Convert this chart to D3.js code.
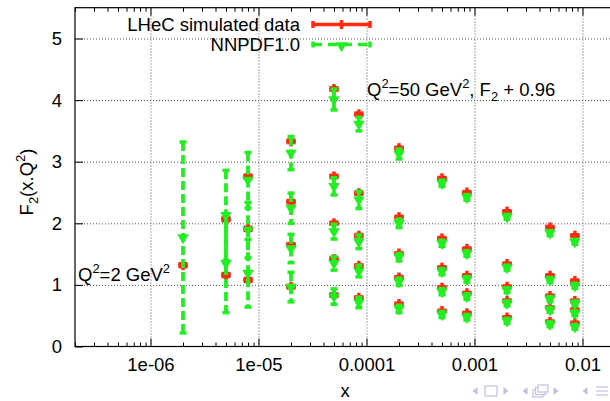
<!DOCTYPE html>
<html><head><meta charset="utf-8">
<script src="https://cdn.jsdelivr.net/npm/d3@7"></script>
<style>
body{margin:0;background:#fff}
svg{display:block}
text{font-family:"Liberation Sans",Arial,Helvetica,sans-serif;fill:#000}
</style>
</head><body>
<svg id="c" width="610" height="401"></svg>
<script>
// ---------- data ----------
const colX = [2e-6, 5e-6, 8e-6, 2e-5, 5e-5, 8.5e-5, 2e-4, 5e-4, 8.5e-4, 2e-3, 5e-3, 8.5e-3];

// LHeC simulated data (values per x column) and error per column
const lhecY = [
  [1.32],
  [2.065, 1.16],
  [2.76, 1.91, 1.08],
  [3.33, 2.35, 1.65, 0.97],
  [4.18, 2.76, 2.00, 1.42, 0.835],
  [3.77, 2.49, 1.80, 1.31, 0.79],
  [3.22, 2.10, 1.51, 1.12, 0.69],
  [2.73, 1.755, 1.28, 0.955, 0.575],
  [2.50, 1.585, 1.15, 0.865, 0.54],
  [2.19, 1.34, 0.97, 0.74, 0.47],
  [1.935, 1.15, 0.82, 0.63, 0.40],
  [1.80, 1.065, 0.74, 0.595, 0.38]
];
const lhecErr = [0.025, 0.025, 0.025, 0.02, 0.02, 0.02, 0.015, 0.015, 0.015, 0.015, 0.015, 0.015];

// NNPDF1.0 predictions and uncertainties
const nnpdfY = [
  [1.77],
  [2.13, 1.35],
  [2.70, 1.89, 1.19],
  [3.14, 2.245, 1.59, 0.965],
  [4.01, 2.60, 1.865, 1.35, 0.81],
  [3.61, 2.38, 1.70, 1.225, 0.715],
  [3.125, 2.00, 1.45, 1.05, 0.61],
  [2.65, 1.675, 1.215, 0.89, 0.52],
  [2.42, 1.51, 1.09, 0.81, 0.475],
  [2.105, 1.28, 0.915, 0.70, 0.415],
  [1.84, 1.08, 0.77, 0.595, 0.36],
  [1.70, 0.985, 0.70, 0.54, 0.32]
];
const nnpdfErr = [
  [1.55],
  [0.73, 0.80],
  [0.45, 0.45, 0.55],
  [0.27, 0.245, 0.23, 0.24],
  [0.17, 0.14, 0.12, 0.11, 0.125],
  [0.11, 0.14, 0.11, 0.095, 0.085],
  [0.08, 0.07, 0.06, 0.06, 0.06],
  [0.05, 0.05, 0.05, 0.05, 0.05],
  [0.045, 0.045, 0.045, 0.045, 0.045],
  [0.04, 0.04, 0.04, 0.04, 0.04],
  [0.04, 0.04, 0.04, 0.04, 0.04],
  [0.04, 0.04, 0.04, 0.04, 0.04]
];

const xTickVals = [1e-6, 1e-5, 1e-4, 1e-3, 1e-2];
const xTickLabels = ["1e-06", "1e-05", "0.0001", "0.001", "0.01"];
const yTickVals = [0, 1, 2, 3, 4, 5];
const legendLabels = ["LHeC simulated data", "NNPDF1.0"];

// ---------- setup ----------
const FS = 18.5;
const RED = "#ff2a10", GREEN = "#22ee22";
const L = 75, R = 615, T = 7.7, B = 346.5;
const svg = d3.select("#c");
const x = d3.scaleLog().domain([2e-7, 0.02]).range([L, R]);
const y = d3.scaleLinear().domain([0, 5.5]).range([B, T]);

const lhec = [], nnpdf = [];
colX.forEach((xv, i) => {
  lhecY[i].forEach(v => lhec.push({x: xv, y: v, e: lhecErr[i]}));
  nnpdfY[i].forEach((v, j) => nnpdf.push({x: xv, y: v, e: nnpdfErr[i][j]}));
});

const minorVals = [];
for (let d = -7; d <= -2; d++) for (let m = 2; m <= 9; m++) {
  const v = m * Math.pow(10, d);
  if (v >= 2e-7 && v <= 0.02) minorVals.push(v);
}

// ---------- grid ----------
const gridStyle = g => {
  g.select(".domain").remove();
  g.selectAll("text").remove();
  g.selectAll("line").attr("stroke", "#555").attr("stroke-width", 1).attr("stroke-dasharray", "1,2");
};
svg.append("g").attr("transform", `translate(0,${B})`)
  .call(d3.axisBottom(x).tickValues(xTickVals).tickSize(-(B - T)).tickFormat(""))
  .call(gridStyle);
svg.append("g").attr("transform", `translate(${L},0)`)
  .call(d3.axisLeft(y).tickValues([1, 2, 3, 4, 5]).tickSize(-(R - L)).tickFormat(""))
  .call(gridStyle);

// ---------- axes ----------
const axStyle = g => {
  g.select(".domain").remove();
  g.selectAll("line").attr("stroke", "#000").attr("stroke-width", 1);
  g.selectAll("text").attr("font-size", FS).attr("fill", "#000")
    .style("font-family", '"Liberation Sans",Arial,sans-serif');
};
svg.append("g").attr("transform", `translate(0,${B})`)
  .call(d3.axisBottom(x).tickValues(xTickVals).tickSize(-8).tickPadding(11)
    .tickFormat((d, i) => xTickLabels[i]))
  .call(axStyle);
svg.append("g").attr("transform", `translate(0,${B})`)
  .call(d3.axisBottom(x).tickValues(minorVals).tickSize(-4).tickFormat(""))
  .call(axStyle);
svg.append("g").attr("transform", `translate(0,${T})`)
  .call(d3.axisTop(x).tickValues(xTickVals).tickSize(-8).tickFormat(""))
  .call(axStyle);
svg.append("g").attr("transform", `translate(0,${T})`)
  .call(d3.axisTop(x).tickValues(minorVals).tickSize(-4).tickFormat(""))
  .call(axStyle);
svg.append("g").attr("transform", `translate(${L},0)`)
  .call(d3.axisLeft(y).tickValues(yTickVals).tickSize(-8).tickPadding(13).tickFormat(d3.format("d")))
  .call(axStyle);

svg.append("rect").attr("x", L).attr("y", T).attr("width", R - L).attr("height", B - T)
  .attr("fill", "none").attr("stroke", "#000").attr("stroke-width", 1.2);

// ---------- LHeC (red) ----------
const gR = svg.append("g").attr("stroke", RED).attr("stroke-width", 3.4).attr("stroke-linecap", "butt");
lhec.forEach(d => {
  const cx = x(d.x), cy = y(d.y), y1 = y(d.y + d.e), y2 = y(d.y - d.e);
  gR.append("line").attr("x1", cx).attr("x2", cx).attr("y1", y1).attr("y2", y2);
  [y1, y2].forEach(yy => gR.append("line").attr("x1", cx - 4.5).attr("x2", cx + 4.5).attr("y1", yy).attr("y2", yy));
  gR.append("line").attr("x1", cx - 4.8).attr("x2", cx + 4.8).attr("y1", cy).attr("y2", cy);
  gR.append("line").attr("x1", cx).attr("x2", cx).attr("y1", cy - 5).attr("y2", cy + 5);
});

// ---------- NNPDF (green) ----------
const gG = svg.append("g");
const tri = d3.symbol().type(d3.symbolTriangle).size(58);
nnpdf.forEach(d => {
  const cx = x(d.x), cy = y(d.y), y1 = y(d.y + d.e), y2 = y(d.y - d.e);
  gG.append("line").attr("x1", cx).attr("x2", cx).attr("y1", y1).attr("y2", y2)
    .attr("stroke", GREEN).attr("stroke-width", 3.8).attr("stroke-dasharray", "9,4");
  [y1, y2].forEach(yy => gG.append("line").attr("x1", cx - 3.5).attr("x2", cx + 3.5).attr("y1", yy).attr("y2", yy)
    .attr("stroke", GREEN).attr("stroke-width", 3.5));
  gG.append("path").attr("d", tri).attr("fill", GREEN)
    .attr("transform", `translate(${cx},${cy}) rotate(180)`);
});

// ---------- legend ----------
const lg = svg.append("g");
const ly = [24.5, 44.5];
lg.append("text").attr("x", 300).attr("y", ly[0]).attr("dy", "0.35em").attr("text-anchor", "end")
  .attr("font-size", FS).text(legendLabels[0]);
lg.append("text").attr("x", 300).attr("y", ly[1]).attr("dy", "0.35em").attr("text-anchor", "end")
  .attr("font-size", FS).text(legendLabels[1]);
lg.append("line").attr("x1", 313).attr("x2", 370).attr("y1", ly[0]).attr("y2", ly[0])
  .attr("stroke", RED).attr("stroke-width", 3.5);
[313, 370].forEach(xx => lg.append("line").attr("x1", xx).attr("x2", xx).attr("y1", ly[0] - 3.5).attr("y2", ly[0] + 3.5)
  .attr("stroke", RED).attr("stroke-width", 3.5));
lg.append("line").attr("x1", 341.5).attr("x2", 341.5).attr("y1", ly[0] - 4.5).attr("y2", ly[0] + 4.5)
  .attr("stroke", RED).attr("stroke-width", 3.5);
lg.append("line").attr("x1", 313).attr("x2", 370).attr("y1", ly[1]).attr("y2", ly[1])
  .attr("stroke", GREEN).attr("stroke-width", 3.5).attr("stroke-dasharray", "9,6");
[313, 370].forEach(xx => lg.append("line").attr("x1", xx).attr("x2", xx).attr("y1", ly[1] - 3).attr("y2", ly[1] + 3)
  .attr("stroke", GREEN).attr("stroke-width", 3.5));
lg.append("path").attr("d", tri).attr("fill", GREEN).attr("transform", `translate(341.5,${ly[1] + 1}) rotate(180)`);

// ---------- annotations ----------
function rich(g, parts, size) {
  parts.forEach(p => {
    const t = g.append("tspan").text(p.t);
    if (p.s === "sup") t.attr("font-size", size * 0.7).attr("dy", -size * 0.42);
    else if (p.s === "sub") t.attr("font-size", size * 0.7).attr("dy", size * 0.28);
    else t.attr("font-size", size);
    if (p.back) t.attr("dy", p.back);
  });
}
const a1 = svg.append("text").attr("x", 367).attr("y", 96);
rich(a1, [{t: "Q"}, {t: "2", s: "sup"}, {t: "=50 GeV", back: FS * 0.42}, {t: "2", s: "sup"},
  {t: ", F", back: FS * 0.42}, {t: "2", s: "sub"}, {t: " + 0.96", back: -FS * 0.28}], FS);
const a2 = svg.append("text").attr("x", 78).attr("y", 281);
rich(a2, [{t: "Q"}, {t: "2", s: "sup"}, {t: "=2 GeV", back: FS * 0.42}, {t: "2", s: "sup"}], FS);

svg.append("text").attr("x", 345).attr("y", 397).attr("text-anchor", "middle").attr("font-size", FS).text("x");
const yt = svg.append("text").attr("text-anchor", "middle")
  .attr("transform", "translate(33,182) rotate(-90)");
rich(yt, [{t: "F"}, {t: "2", s: "sub"}, {t: "(x.Q", back: -FS * 0.28}, {t: "2", s: "sup"}, {t: ")", back: FS * 0.42}], FS);

// ---------- beamer navigation symbols ----------
const nav = svg.append("g").attr("fill", "#c0c0e4").attr("stroke", "#c0c0e4");
const navY = 391;
function triL(cx) { nav.append("path").attr("d", `M${cx + 2.5},${navY - 4}L${cx - 2.5},${navY}L${cx + 2.5},${navY + 4}Z`).attr("stroke", "none"); }
function triR(cx) { nav.append("path").attr("d", `M${cx - 2.5},${navY - 4}L${cx + 2.5},${navY}L${cx - 2.5},${navY + 4}Z`).attr("stroke", "none"); }
triL(475);
nav.append("rect").attr("x", 485).attr("y", navY - 5).attr("width", 12).attr("height", 10).attr("fill", "none").attr("stroke-width", 1.2);
triR(506);
triL(525);
[0, 2.5, 5].forEach(o => nav.append("rect").attr("x", 533 + o).attr("y", navY - 1 - o).attr("width", 10).attr("height", 7).attr("fill", "#fff").attr("stroke-width", 1.2));
triR(556);
triL(585);
[-4, 0, 4].forEach(o => nav.append("line").attr("x1", 596).attr("x2", 608).attr("y1", navY + o).attr("y2", navY + o).attr("stroke-width", 1.2));
</script>
</body></html>
